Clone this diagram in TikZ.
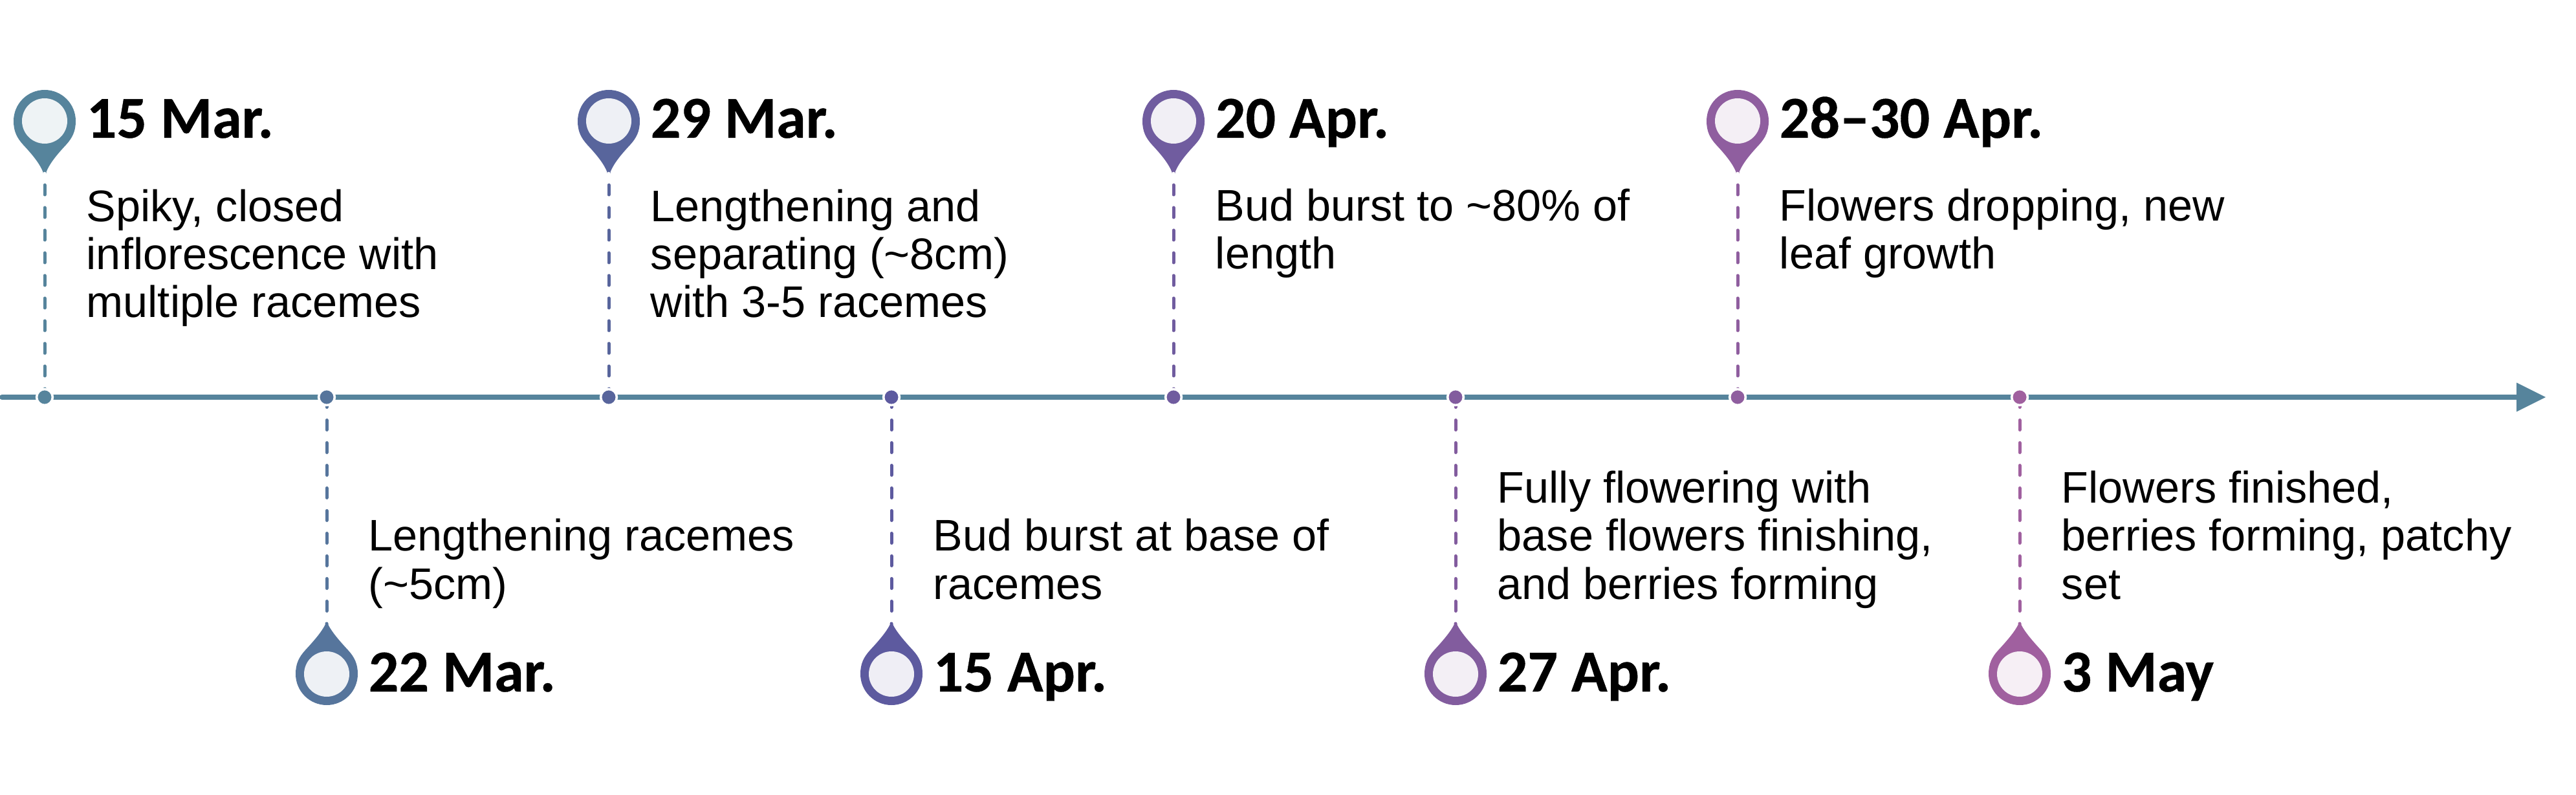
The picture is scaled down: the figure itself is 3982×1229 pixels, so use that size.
\documentclass[tikz,border=0pt]{standalone}
\usepackage{fontspec}
\setmainfont{Liberation Sans}
\newfontfamily\datefont{Carlito}[BoldFont={Carlito Bold},BoldFeatures={FakeBold=0.4}]
\definecolor{axisc}{HTML}{56849C}
\definecolor{ca}{HTML}{56849C}\definecolor{cb}{HTML}{56759C}
\definecolor{cc}{HTML}{58659C}\definecolor{cd}{HTML}{5D5A9F}
\definecolor{ce}{HTML}{705C9F}\definecolor{cf}{HTML}{825C9E}
\definecolor{cg}{HTML}{8F5E9F}\definecolor{ch}{HTML}{A0609F}
\tikzset{
 x=0.25pt,y=-0.25pt,
 axisline/.style={axisc,line width=1.9pt},
 dot/.style={circle,inner sep=0pt,minimum size=6.2pt,draw=white,line width=0.9pt},
 stem/.style={line width=1.25pt,line cap=round,dash pattern=on 3.75pt off 5pt},
 datelabel/.style={anchor=base west,inner sep=0pt,font=\datefont\bfseries\fontsize{23}{25}\selectfont,text=black},
 bodylabel/.style={anchor=base west,inner sep=0pt,align=left,font=\fontsize{17.1}{18.6}\selectfont,text=black},
}
\newcommand{\uppin}[2]{% x, colour
 \fill[#2] (#1-48,187) arc[start angle=180,end angle=0,radius=12pt]
  .. controls (#1+48,203) and (#1+43,213) .. (#1+33,224) .. controls (#1+20,238) and (#1+8,252) .. (#1+2.5,266)
  -- (#1+2.5,268) arc[start angle=0,end angle=180,radius=0.625pt] -- (#1-2.5,266)
  .. controls (#1-8,252) and (#1-20,238) .. (#1-33,224) .. controls (#1-43,213) and (#1-48,203) .. (#1-48,187) -- cycle;
 \fill[#2!10!white] (#1,187) circle[radius=8.75pt];
}
\newcommand{\downpin}[2]{%
 \fill[#2] (#1-48,1042) arc[start angle=180,end angle=360,radius=12pt]
  .. controls (#1+48,1026) and (#1+43,1016) .. (#1+33,1005) .. controls (#1+20,991) and (#1+8,977) .. (#1+2.5,966)
  -- (#1+2.5,964) arc[start angle=0,end angle=180,radius=0.625pt] -- (#1-2.5,966)
  .. controls (#1-8,977) and (#1-20,991) .. (#1-33,1005) .. controls (#1-43,1016) and (#1-48,1026) .. (#1-48,1042) -- cycle;
 \fill[#2!10!white] (#1,1042) circle[radius=8.75pt];
}
\begin{document}
\begin{tikzpicture}
\useasboundingbox (0,0) rectangle (3982,1229);
\coordinate (axS) at (3,614);
\coordinate (axE) at (3892,614);
\draw[axisline,line cap=round] (axS) -- (axE);
\fill[axisc] (3890,591.5) -- (3935,614) -- (3890,636.5) -- cycle;
\foreach \x/\c in {69/ca,941/cc,1814/ce,2686/cg}{
 \draw[stem,\c] (\x,286) -- (\x,614);
 \uppin{\x}{\c}
}
\foreach \x/\c in {505/cb,1378/cd,2250/cf,3122/ch}{
 \draw[stem,\c] (\x,944.5) -- (\x,614);
 \downpin{\x}{\c}
}
\foreach \x/\c/\n in {69/ca/a,505/cb/b,941/cc/c,1378/cd/d,1814/ce/e,2250/cf/f,2686/cg/g,3122/ch/h}{
 \node[dot,fill=\c] (dot\n) at (\x,614) {};
}
\node[datelabel] (d1) at (133,213) {15 Mar.};
\node[datelabel] (d2) at (569,1069) {22 Mar.};
\node[datelabel] (d3) at (1005,213) {29 Mar.};
\node[datelabel] (d4) at (1442,1069) {15 Apr.};
\node[datelabel] (d5) at (1878,213) {20 Apr.};
\node[datelabel] (d6) at (2314,1069) {27 Apr.};
\node[datelabel] (d7) at (2750,213) {28–30 Apr.};
\node[datelabel] (d8) at (3186,1069) {3 May};
\node[bodylabel] (t1) at (133,491) {Spiky, closed\\inflorescence with\\multiple racemes};
\node[bodylabel] (t3) at (1005,491) {Lengthening and\\separating (\textasciitilde8cm)\\with 3-5 racemes};
\node[bodylabel] (t5) at (1878,416) {Bud burst to \textasciitilde80\% of\\length};
\node[bodylabel] (t7) at (2750,416) {Flowers dropping, new\\leaf growth};
\node[bodylabel] (t2) at (569,926) {Lengthening racemes\\(\textasciitilde5cm)};
\node[bodylabel] (t4) at (1442,926) {Bud burst at base of\\racemes};
\node[bodylabel] (t6) at (2314,926) {Fully flowering with\\base flowers finishing,\\and berries forming};
\node[bodylabel] (t8) at (3186,926) {Flowers finished,\\berries forming, patchy\\set};
\end{tikzpicture}
\end{document}
